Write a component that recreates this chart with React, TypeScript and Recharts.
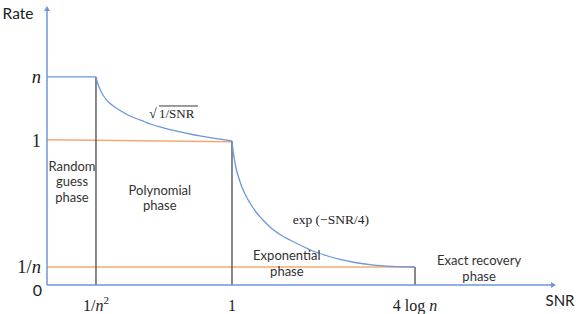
import React from 'react';
import { LineChart, Line, XAxis, YAxis, ReferenceDot } from 'recharts';

// Schematic coordinates (x: SNR position, y: rate position), 0..100
const xTickValues = [9.68, 36.56, 72.73];
const xTickLabels = ['1/n2', '1', '4 log n'];
const yTickValues = [0, 6.5, 52.0, 75.1];
const yTickLabels = ['0', '1/n', '1', 'n'];

const flatX = [0, 9.68];
const flatY = [75.1, 75.1];
const sqrtX = [9.68, 9.88, 10.28, 10.67, 11.26, 12.06, 13.24, 14.62, 16.01, 17.59, 19.17, 20.75, 22.33, 24.31, 26.28, 28.26, 30.24, 32.21, 34.19, 36.56];
const sqrtY = [75.09, 73.65, 71.48, 69.86, 68.05, 66.25, 64.44, 62.82, 61.37, 60.11, 59.03, 57.94, 57.04, 56.1, 55.27, 54.51, 53.83, 53.21, 52.64, 51.99];
const expX = [36.56, 36.76, 36.96, 37.35, 37.85, 38.44, 39.13, 40.12, 41.3, 42.69, 44.27, 46.05, 48.02, 50.2, 52.57, 55.14, 57.91, 60.87, 64.23, 68.18, 72.73];
const expY = [51.99, 48.74, 46.21, 42.24, 38.99, 35.74, 32.85, 29.6, 26.35, 23.47, 20.58, 18.23, 16.25, 14.26, 12.27, 10.65, 9.21, 8.12, 7.29, 6.75, 6.5];
const orangeTopX = [0, 36.56];
const orangeTopY = [52.4, 51.7];
const orangeLowX = [0, 72.73];
const orangeLowY = [6.5, 6.5];
const dividerX = [9.68, 36.56, 72.73];
const dividerTop = [75.1, 52.0, 6.5];

const phaseLabels = [
  { x: 4.94, y: 37.5, lines: ['Random', 'guess', 'phase'] },
  { x: 22.3, y: 31.6, lines: ['Polynomial', 'phase'] },
  { x: 47.4, y: 7.9, lines: ['Exponential', 'phase'] },
  { x: 85.4, y: 6.1, lines: ['Exact recovery', 'phase'] },
];

const BLUE = '#6C97DC';
const ORANGE = '#F4A878';
const GRAY = '#4a4a4a';
const SANS = 'Lato, "Open Sans", sans-serif';
const SERIF = '"Liberation Serif", "DejaVu Serif", serif';

const zip = (xs: number[], ys: number[]) => xs.map((x, i) => ({ x, y: ys[i] }));
const flatData = zip(flatX, flatY);
const sqrtData = zip(sqrtX, sqrtY);
const expData = zip(expX, expY);
const orangeTop = zip(orangeTopX, orangeTopY);
const orangeLow = zip(orangeLowX, orangeLowY);

const renderMath = (label: string) => {
  if (label === '1/n2') {
    return (
      <>
        <tspan>1/</tspan>
        <tspan fontStyle="italic">n</tspan>
        <tspan fontSize={11} dy={-7}>2</tspan>
      </>
    );
  }
  if (label === '1/n') {
    return (
      <>
        <tspan>1/</tspan>
        <tspan fontStyle="italic">n</tspan>
      </>
    );
  }
  if (label === 'n') return <tspan fontStyle="italic">n</tspan>;
  if (label === '4 log n') {
    return (
      <>
        <tspan>4 log </tspan>
        <tspan fontStyle="italic">n</tspan>
      </>
    );
  }
  return <tspan>{label}</tspan>;
};

const XTick = (props: any) => {
  const { x, y, payload } = props;
  const idx = xTickValues.indexOf(payload.value);
  const label = xTickLabels[idx];
  return (
    <text x={x} y={y + 18} textAnchor="middle" fontFamily={SERIF} fontSize={16} fill="#222">
      {renderMath(label)}
    </text>
  );
};

const YTick = (props: any) => {
  const { x, y, payload } = props;
  const idx = yTickValues.indexOf(payload.value);
  const label = yTickLabels[idx];
  if (label === '0') {
    return (
      <text x={x + 3} y={y + 11} textAnchor="end" fontFamily={SANS} fontSize={16} fill="#222">
        0
      </text>
    );
  }
  return (
    <text x={x + 2} y={y + 6} textAnchor="end" fontFamily={SERIF} fontSize={18.5} fill="#222">
      {renderMath(label)}
    </text>
  );
};

const PhaseShape = (lines: string[]) => (props: any) => {
  const { cx, cy } = props;
  const lh = 15.5;
  const start = cy - ((lines.length - 1) * lh) / 2;
  return (
    <g>
      {lines.map((l, i) => (
        <text key={i} x={cx} y={start + i * lh} textAnchor="middle" dominantBaseline="central"
          fontFamily={SANS} fontSize={13} fill="#333">
          {l}
        </text>
      ))}
    </g>
  );
};

const SqrtShape = (props: any) => {
  const { cx, cy } = props;
  return (
    <g>
      <text x={cx - 24} y={cy + 5} fontFamily={SERIF} fontSize={14} fill="#222">√</text>
      <line x1={cx - 14} y1={cy - 7} x2={cx + 25} y2={cy - 7} stroke="#222" strokeWidth={0.9} />
      <text x={cx - 14} y={cy + 5} fontFamily={SERIF} fontSize={13} fill="#222">1/SNR</text>
    </g>
  );
};

const ExpShape = (props: any) => {
  const { cx, cy } = props;
  return (
    <text x={cx} y={cy} textAnchor="middle" dominantBaseline="central" fontFamily={SERIF} fontSize={13.5} fill="#222">
      exp (−SNR/4)
    </text>
  );
};

const UpArrow = (props: any) => {
  const { cx, cy } = props;
  return <path d={`M${cx - 3},${cy + 3} L${cx},${cy - 2} L${cx + 3},${cy + 3} Z`} fill={BLUE} />;
};
const RightArrow = (props: any) => {
  const { cx, cy } = props;
  return <path d={`M${cx - 2},${cy - 3} L${cx + 3},${cy} L${cx - 2},${cy + 3} Z`} fill={BLUE} />;
};

const LabelShape = (text: string, dx: number, dy: number, size: number) => (props: any) => {
  const { cx, cy } = props;
  return (
    <text x={cx + dx} y={cy + dy} textAnchor="middle" dominantBaseline="central" fontFamily={SANS} fontSize={size} fill="#222">
      {text}
    </text>
  );
};

export default function App() {
  return (
    <div style={{ position: 'absolute', left: 0, top: 0, background: '#fff' }}>
      <LineChart width={581} height={314} margin={{ top: 8, right: 28, left: 7, bottom: 0 }}>
        <XAxis
          type="number"
          dataKey="x"
          domain={[0, 100]}
          ticks={xTickValues}
          interval={0}
          tick={<XTick />}
          tickLine={false}
          axisLine={{ stroke: BLUE, strokeWidth: 1.5 }}
          height={29}
          allowDataOverflow
        />
        <YAxis
          type="number"
          dataKey="y"
          domain={[0, 100]}
          ticks={yTickValues}
          interval={0}
          tick={<YTick />}
          tickLine={false}
          axisLine={{ stroke: BLUE, strokeWidth: 1.5 }}
          width={40}
          allowDataOverflow
        />
        <Line data={orangeTop} dataKey="y" stroke={ORANGE} strokeWidth={1.5} dot={false} isAnimationActive={false} />
        <Line data={orangeLow} dataKey="y" stroke={ORANGE} strokeWidth={1.5} dot={false} isAnimationActive={false} />
        {dividerX.map((dx, i) => (
          <Line
            key={'d' + i}
            data={[{ x: dx, y: 0 }, { x: dx, y: dividerTop[i] }]}
            dataKey="y"
            stroke={GRAY}
            strokeWidth={1.3}
            dot={false}
            isAnimationActive={false}
          />
        ))}
        <Line data={flatData} dataKey="y" stroke={BLUE} strokeWidth={1.3} dot={false} isAnimationActive={false} />
        <Line data={sqrtData} dataKey="y" type="monotone" stroke={BLUE} strokeWidth={1.3} dot={false} isAnimationActive={false} />
        <Line data={expData} dataKey="y" type="monotone" stroke={BLUE} strokeWidth={1.3} dot={false} isAnimationActive={false} />
        <ReferenceDot x={0} y={100} r={0} shape={<UpArrow />} ifOverflow="visible" />
        <ReferenceDot x={100} y={0} r={0} shape={<RightArrow />} ifOverflow="visible" />
        <ReferenceDot x={0} y={100} r={0} shape={LabelShape('Rate', -29, 5, 15.5)} ifOverflow="visible" />
        <ReferenceDot x={100} y={0} r={0} shape={LabelShape('SNR', 7, 15, 15)} ifOverflow="visible" />
        <ReferenceDot x={24.9} y={62.1} r={0} shape={<SqrtShape />} ifOverflow="visible" />
        <ReferenceDot x={56.1} y={23.5} r={0} shape={<ExpShape />} ifOverflow="visible" />
        {phaseLabels.map((p, i) => (
          <ReferenceDot key={'p' + i} x={p.x} y={p.y} r={0} shape={PhaseShape(p.lines)} ifOverflow="visible" />
        ))}
      </LineChart>
    </div>
  );
}
